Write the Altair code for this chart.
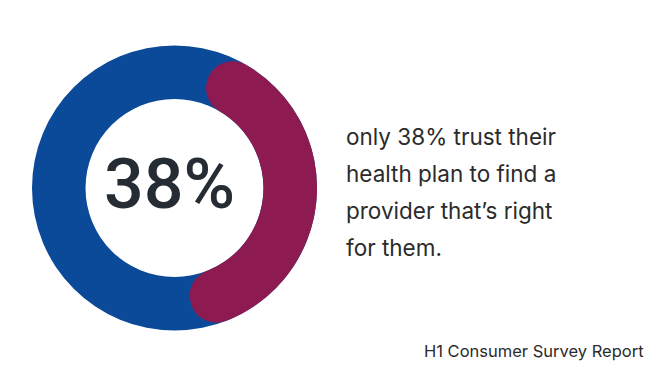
import altair as alt
import pandas as pd

# ---- data ----
segment = ["rest", "trust"]
seg_start = [0, 4.7]      # percent of the circle, clockwise from 12 o'clock
seg_end = [100, 47.8]
seg_color = ["#0b4a99", "#8e1a52"]
headline = ["38%"]
body_lines = ["only 38% trust their", "health plan to find a",
              "provider that\u2019s right", "for them."]
footer = ["H1 Consumer Survey Report"]

df = pd.DataFrame({"segment": segment, "start": seg_start, "end": seg_end})

theta_scale = alt.Scale(domain=[0, 100], range=[0, 6.283185307179586])
color_scale = alt.Scale(domain=segment, range=seg_color)

CX, CY = 166.5, 180
R_OUT, R_IN = 142.5, 89

ring = alt.Chart(df).transform_filter(alt.datum.segment == "rest").mark_arc(
    outerRadius=R_OUT, innerRadius=R_IN
).encode(
    theta=alt.Theta("start:Q", scale=theta_scale),
    theta2="end:Q",
    color=alt.Color("segment:N", scale=color_scale, legend=None),
    x=alt.value(CX), y=alt.value(CY),
)

arc = alt.Chart(df).transform_filter(alt.datum.segment == "trust").mark_arc(
    outerRadius=R_OUT, innerRadius=R_IN, cornerRadius=26.5
).encode(
    theta=alt.Theta("start:Q", scale=theta_scale),
    theta2="end:Q",
    color=alt.Color("segment:N", scale=color_scale, legend=None),
    x=alt.value(CX), y=alt.value(CY),
)

big = alt.Chart(pd.DataFrame({"t": headline})).mark_text(
    font="Roboto", fontSize=70, fontWeight=500, color="#262c33",
    align="center", baseline="alphabetic"
).encode(text="t:N", x=alt.value(161.5), y=alt.value(200))

body = alt.Chart(pd.DataFrame({"t": [body_lines]})).mark_text(
    font="Inter", fontSize=22.5, fontWeight=400, color="#2b2b2b",
    align="left", baseline="alphabetic", lineHeight=37
).encode(text="t", x=alt.value(338), y=alt.value(137))

foot = alt.Chart(pd.DataFrame({"t": footer})).mark_text(
    font="Inter", fontSize=16.5, fontWeight=400, color="#2b2b2b",
    align="left", baseline="alphabetic"
).encode(text="t:N", x=alt.value(416), y=alt.value(349))

chart = alt.layer(ring, arc, big, body, foot).properties(
    width=656, height=366, autosize=alt.AutoSizeParams(type="none"), padding=0
).configure(background="white", view=alt.ViewConfig(stroke=None))

chart.save("out.html", embed_options={"renderer": "svg", "actions": False})
